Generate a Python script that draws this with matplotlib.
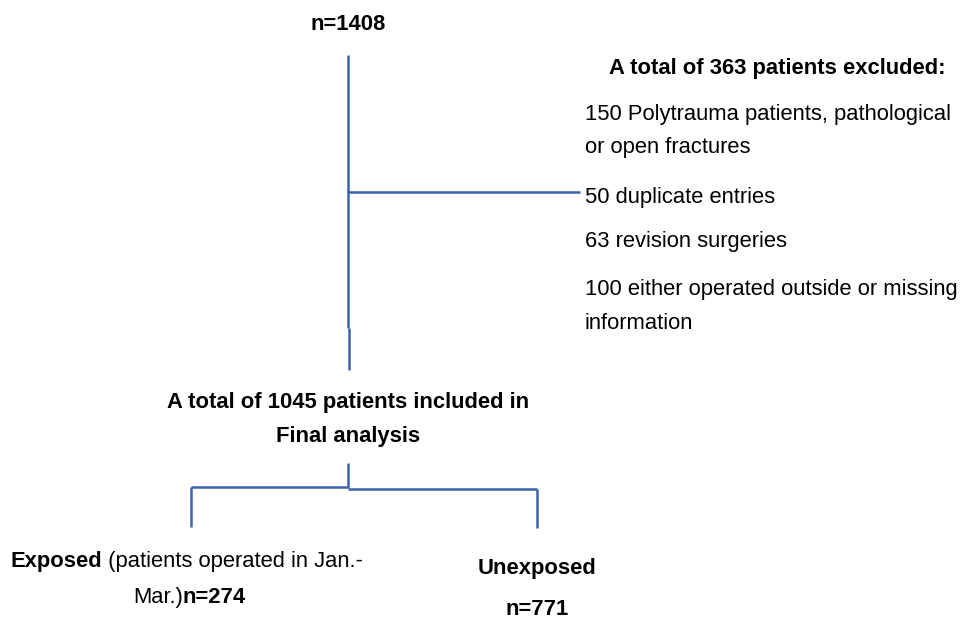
import matplotlib
matplotlib.use("Agg")
import matplotlib.pyplot as plt

# ---- content ----
total_label = "n=1408"
excluded_title = "A total of 363 patients excluded:"
excluded_lines = [
    "150 Polytrauma patients, pathological",
    "or open fractures",
    "50 duplicate entries",
    "63 revision surgeries",
    "100 either operated outside or missing",
    "information",
]
included_lines = ["A total of 1045 patients included in", "Final analysis"]
exposed_head = "Exposed"
exposed_rest = " (patients operated in Jan.-"
exposed_l2_reg = "Mar.)"
exposed_l2_bold = "n=274"
unexposed_lines = ["Unexposed", "n=771"]

# ---- layout ----
W, H = 968, 621
LC = "#3c62a8"
LW = 1.8
FONT = "Liberation Sans"
FS = 15.8

fig = plt.figure(figsize=(W / 100, H / 100), dpi=100)
ax = fig.add_axes([0, 0, 1, 1])
ax.set_xlim(0, W)
ax.set_ylim(H, 0)
ax.axis("off")

def line(xs, ys):
    ax.plot(xs, ys, color=LC, lw=LW, solid_capstyle="butt")

# main trunk
line([348, 348], [55, 328])
line([349, 349], [328, 370])
# exclusion branch
line([348, 580], [192, 192])
# split
line([348, 348], [463, 488])
line([191, 348], [487, 487])
line([348, 537], [489, 489])
line([191, 191], [487, 527])
line([537, 537], [489, 528])

def txt(x, y, s, ha="center", bold=False):
    return ax.text(x, y, s, ha=ha, va="baseline", fontsize=FS,
                   fontweight="bold" if bold else "normal", family=FONT)

def right_end(t):
    fig.canvas.draw()
    bb = t.get_window_extent(fig.canvas.get_renderer())
    return ax.transData.inverted().transform((bb.x1, bb.y0))[0]

txt(348, 30, total_label, bold=True)
txt(777, 74, excluded_title, bold=True)
ex_y = [120, 153, 203, 247, 295, 329]
for t, y in zip(excluded_lines, ex_y):
    txt(585, y, t, ha="left")

for t, y in zip(included_lines, [408, 442]):
    txt(348, y, t, bold=True)

# Exposed
t1 = txt(10, 567, exposed_head, ha="left", bold=True)
txt(right_end(t1), 567, exposed_rest, ha="left")
t3 = txt(133, 603, exposed_l2_reg, ha="left")
txt(right_end(t3), 603, exposed_l2_bold, ha="left", bold=True)

for t, y in zip(unexposed_lines, [574, 615]):
    txt(537, y, t, bold=True)

fig.savefig("out.png", dpi=100)
